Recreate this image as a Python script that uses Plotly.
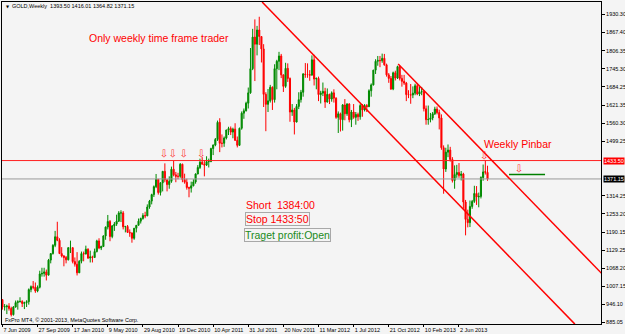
import plotly.graph_objects as go

# ---------------- data (weekly GOLD candles, week 0 = 7 Jun 2009) ----------------
opens = [962, 937, 938, 940, 932, 911, 937, 952, 955, 956, 949, 952, 955, 996, 1006, 1004, 991, 1004, 1049, 1051,
         1056, 1045, 1096, 1118, 1146, 1175, 1163, 1118, 1110, 1105, 1097, 1138, 1138, 1091, 1082, 1053, 1092, 1118, 1117, 1133,
         1103, 1107, 1105, 1125, 1161, 1137, 1142, 1178, 1208, 1227, 1176, 1212, 1218, 1228, 1256, 1256, 1209, 1210, 1190, 1188,
         1170, 1204, 1214, 1228, 1237, 1247, 1246, 1276, 1296, 1318, 1345, 1370, 1325, 1358, 1397, 1368, 1352, 1363, 1404, 1385,
         1380, 1380, 1421, 1369, 1360, 1342, 1340, 1348, 1361, 1388, 1410, 1428, 1421, 1418, 1430, 1430, 1474, 1486, 1505, 1563,
         1492, 1492, 1510, 1537, 1542, 1530, 1540, 1502, 1485, 1543, 1594, 1602, 1628, 1663, 1745, 1852, 1828, 1876, 1854, 1812,
         1658, 1624, 1636, 1682, 1640, 1745, 1770, 1788, 1724, 1685, 1746, 1712, 1598, 1605, 1564, 1617, 1640, 1665, 1727, 1725,
         1725, 1723, 1775, 1710, 1712, 1657, 1662, 1668, 1632, 1658, 1642, 1663, 1645, 1580, 1592, 1572, 1622, 1592, 1625, 1572,
         1598, 1580, 1590, 1582, 1620, 1605, 1620, 1616, 1670, 1690, 1740, 1770, 1773, 1772, 1780, 1758, 1724, 1712, 1676, 1731,
         1713, 1752, 1712, 1702, 1696, 1657, 1656, 1656, 1662, 1687, 1659, 1667, 1667, 1609, 1572, 1573, 1578, 1592, 1608, 1596,
         1578, 1477, 1405, 1462, 1469, 1437, 1366, 1386, 1393, 1383, 1388, 1293, 1234, 1223, 1278, 1295, 1322, 1310, 1312, 1376,
         1396, 1393.50]
highs = [964, 947, 945, 950, 938, 940, 959, 960, 970, 960, 955, 960, 1000, 1010, 1025, 1020, 1010, 1060, 1070, 1070,
         1064, 1100, 1120, 1150, 1195, 1226, 1170, 1140, 1113, 1110, 1140, 1162, 1140, 1105, 1123, 1096, 1125, 1125, 1145, 1136,
         1128, 1111, 1135, 1165, 1170, 1145, 1180, 1210, 1249, 1232, 1215, 1225, 1250, 1262, 1265, 1262, 1212, 1215, 1200, 1190,
         1205, 1215, 1237, 1240, 1255, 1260, 1285, 1300, 1321, 1349, 1388, 1371, 1360, 1398, 1424, 1370, 1380, 1413, 1432, 1395,
         1392, 1425, 1423, 1389, 1372, 1345, 1362, 1370, 1390, 1418, 1440, 1445, 1435, 1448, 1440, 1477, 1488, 1510, 1569, 1577,
         1522, 1515, 1538, 1548, 1549, 1545, 1560, 1515, 1545, 1600, 1610, 1633, 1681, 1815, 1880, 1912, 1890, 1921, 1855, 1828,
         1665, 1676, 1690, 1685, 1760, 1775, 1802, 1795, 1725, 1765, 1763, 1715, 1625, 1612, 1625, 1665, 1673, 1730, 1764, 1763,
         1740, 1790, 1792, 1715, 1718, 1670, 1698, 1680, 1678, 1660, 1668, 1675, 1648, 1600, 1596, 1625, 1642, 1628, 1628, 1605,
         1625, 1598, 1596, 1625, 1625, 1625, 1625, 1675, 1695, 1741, 1777, 1788, 1788, 1796, 1795, 1762, 1730, 1720, 1735, 1738,
         1755, 1755, 1724, 1724, 1700, 1672, 1693, 1685, 1694, 1695, 1685, 1683, 1670, 1620, 1620, 1595, 1598, 1616, 1617, 1606,
         1590, 1485, 1477, 1488, 1480, 1445, 1417, 1419, 1425, 1398, 1392, 1300, 1267, 1298, 1300, 1348, 1347, 1325, 1380, 1420,
         1434, 1416.01]
lows = [928, 925, 913, 925, 905, 908, 935, 928, 952, 937, 930, 937, 945, 987, 997, 985, 987, 1000, 1040, 1040,
        1027, 1045, 1085, 1115, 1140, 1160, 1120, 1105, 1075, 1085, 1095, 1120, 1085, 1074, 1044, 1052, 1085, 1092, 1115, 1100,
        1088, 1088, 1103, 1122, 1133, 1130, 1141, 1165, 1200, 1160, 1170, 1195, 1212, 1225, 1225, 1200, 1190, 1190, 1175, 1155,
        1165, 1190, 1214, 1220, 1233, 1238, 1245, 1270, 1285, 1310, 1340, 1318, 1315, 1329, 1360, 1329, 1338, 1358, 1380, 1360,
        1370, 1375, 1360, 1355, 1335, 1309, 1325, 1346, 1355, 1387, 1405, 1420, 1380, 1415, 1410, 1428, 1452, 1482, 1500, 1462,
        1478, 1480, 1505, 1520, 1520, 1509, 1500, 1478, 1483, 1538, 1575, 1600, 1610, 1660, 1740, 1703, 1790, 1825, 1766, 1615,
        1533, 1598, 1630, 1605, 1630, 1675, 1740, 1713, 1666, 1680, 1700, 1565, 1585, 1522, 1563, 1608, 1630, 1650, 1714, 1714,
        1704, 1722, 1688, 1675, 1635, 1627, 1652, 1612, 1630, 1625, 1633, 1630, 1575, 1527, 1532, 1535, 1570, 1585, 1563, 1547,
        1575, 1555, 1568, 1572, 1582, 1600, 1598, 1615, 1650, 1688, 1727, 1755, 1750, 1765, 1755, 1718, 1697, 1673, 1672, 1705,
        1710, 1705, 1684, 1690, 1635, 1645, 1626, 1645, 1655, 1655, 1652, 1655, 1600, 1555, 1555, 1563, 1570, 1588, 1590, 1539,
        1470, 1321, 1395, 1445, 1430, 1359, 1338, 1375, 1375, 1366, 1270, 1180, 1207, 1208, 1270, 1290, 1283, 1275, 1305, 1365,
        1386, 1364.82]
closes = [937, 938, 940, 932, 911, 937, 952, 955, 956, 949, 952, 955, 996, 1006, 1004, 991, 1004, 1049, 1051, 1056,
          1045, 1096, 1118, 1146, 1175, 1163, 1118, 1110, 1105, 1097, 1138, 1138, 1091, 1082, 1053, 1092, 1118, 1117, 1133, 1103,
          1107, 1105, 1125, 1161, 1137, 1142, 1178, 1208, 1227, 1176, 1212, 1218, 1228, 1256, 1256, 1209, 1210, 1190, 1188, 1170,
          1204, 1214, 1228, 1237, 1247, 1246, 1276, 1296, 1318, 1345, 1370, 1325, 1358, 1397, 1368, 1352, 1363, 1404, 1385, 1380,
          1380, 1421, 1369, 1360, 1342, 1340, 1348, 1361, 1388, 1410, 1428, 1421, 1418, 1430, 1430, 1474, 1486, 1505, 1563, 1492,
          1492, 1510, 1537, 1542, 1530, 1540, 1502, 1485, 1543, 1594, 1602, 1628, 1663, 1745, 1852, 1828, 1876, 1854, 1812, 1658,
          1624, 1636, 1682, 1640, 1745, 1770, 1788, 1724, 1685, 1746, 1712, 1598, 1605, 1564, 1617, 1640, 1665, 1727, 1725, 1725,
          1723, 1775, 1710, 1712, 1657, 1662, 1668, 1632, 1658, 1642, 1663, 1645, 1580, 1592, 1572, 1622, 1592, 1625, 1572, 1598,
          1580, 1590, 1582, 1620, 1605, 1620, 1616, 1670, 1690, 1740, 1770, 1773, 1772, 1780, 1758, 1724, 1712, 1676, 1731, 1713,
          1752, 1712, 1702, 1696, 1657, 1656, 1656, 1662, 1687, 1659, 1667, 1667, 1609, 1572, 1573, 1578, 1592, 1608, 1596, 1578,
          1477, 1405, 1462, 1469, 1437, 1366, 1386, 1393, 1383, 1388, 1293, 1234, 1223, 1278, 1295, 1322, 1310, 1312, 1376, 1395,
          1394, 1371.15]
weeks = list(range(len(closes)))

date_tick_weeks = [0, 16, 32, 48, 64, 80, 96, 112, 128, 144, 160, 176, 192, 208]
date_tick_labels = ["7 Jun 2009", "27 Sep 2009", "17 Jan 2010", "9 May 2010", "29 Aug 2010", "19 Dec 2010",
                    "10 Apr 2011", "31 Jul 2011", "20 Nov 2011", "11 Mar 2012", "1 Jul 2012", "21 Oct 2012",
                    "10 Feb 2013", "2 Jun 2013"]
price_ticks = [1930.30, 1867.40, 1806.35, 1745.30, 1684.25, 1621.35, 1560.30, 1499.25,
               1314.25, 1253.20, 1190.15, 1129.25, 1068.20, 1007.15, 946.10, 885.05]

stop_level = 1433.50
bid_level = 1371.15
entry_level = 1386
entry_span = [230.8, 247.2]

long_line_x = [118.3, 260.8]
long_line_y = [1971, 879]
upper_line_x = [180.3, 273.5]
upper_line_y = [1761, 1047]

arrow_x = [73.6, 77.6, 82.6, 90.6, 219.5, 235.3]
arrow_y = [1455, 1455, 1455, 1455, 1448, 1402]

X_RANGE = [-0.2, 272.7]
Y_RANGE = [879.4, 1971.0]

BG = "#f4f4f4"
SMALL = dict(family="Liberation Sans, Arial, sans-serif", size=5.5, color="#000000")
BIG = "Liberation Sans, Arial, sans-serif"

fig = go.Figure()

fig.add_trace(go.Candlestick(
    x=weeks, open=opens, high=highs, low=lows, close=closes,
    increasing=dict(line=dict(color="#008a00", width=1), fillcolor="#008a00"),
    decreasing=dict(line=dict(color="#ff0000", width=1), fillcolor="#ff0000"),
    whiskerwidth=0, hoverinfo="skip", showlegend=False))

# horizontal lines
fig.add_trace(go.Scatter(x=[X_RANGE[0] - 5, X_RANGE[1] + 5], y=[stop_level, stop_level], mode="lines",
                         line=dict(color="#ff2020", width=1), hoverinfo="skip", showlegend=False))
fig.add_trace(go.Scatter(x=[X_RANGE[0] - 5, X_RANGE[1] + 5], y=[bid_level, bid_level], mode="lines",
                         line=dict(color="#9a9a9a", width=1), hoverinfo="skip", showlegend=False))
fig.add_trace(go.Scatter(x=entry_span, y=[entry_level, entry_level], mode="lines",
                         line=dict(color="#008000", width=1.6), hoverinfo="skip", showlegend=False))

# trend channel lines
fig.add_trace(go.Scatter(x=long_line_x, y=long_line_y, mode="lines",
                         line=dict(color="#ff0000", width=1.5), hoverinfo="skip", showlegend=False))
fig.add_trace(go.Scatter(x=upper_line_x, y=upper_line_y, mode="lines",
                         line=dict(color="#ff0000", width=1.5), hoverinfo="skip", showlegend=False))

# arrows
fig.add_trace(go.Scatter(x=arrow_x, y=arrow_y, mode="text", text=["⇩"] * len(arrow_x),
                         textposition="middle center",
                         textfont=dict(family="DejaVu Sans", size=10, color="#ff3030"),
                         hoverinfo="skip", showlegend=False))

W, H = 625, 334
ML, MR, MT, MB = 2, 24, 2, 10
PW, PH = W - ML - MR, H - MT - MB


def px(xp):
    return (xp - ML) / PW


def py(yp):
    return (H - MB - yp) / PH


ann = []
ann.append(dict(text="▼", x=px(4), y=py(6), xref="paper", yref="paper", xanchor="left", yanchor="middle",
                showarrow=False, font=dict(family="DejaVu Sans", size=4, color="#000")))
ann.append(dict(text="GOLD,Weekly  1393.50 1416.01 1364.82 1371.15", x=px(10), y=py(6), xref="paper",
                yref="paper", xanchor="left", yanchor="middle", showarrow=False, font=SMALL))
ann.append(dict(text="FxPro MT4, © 2001-2013, MetaQuotes Software Corp.", x=px(3), y=py(320), xref="paper",
                yref="paper", xanchor="left", yanchor="middle", showarrow=False, font=SMALL))
ann.append(dict(text="Only weekly time frame trader", x=px(87), y=py(38), xref="paper", yref="paper",
                xanchor="left", yanchor="middle", showarrow=False, font=dict(family=BIG, size=10.5, color="#ff0000")))
ann.append(dict(text="Short  1384:00", x=px(244), y=py(205), xref="paper", yref="paper",
                xanchor="left", yanchor="middle", showarrow=False, font=dict(family=BIG, size=10.5, color="#ff0000")))
ann.append(dict(text="Stop 1433:50", x=px(245), y=py(218.5), xref="paper", yref="paper",
                xanchor="left", yanchor="middle", showarrow=False, bordercolor="#a8a8a8", borderwidth=1, borderpad=0,
                font=dict(family=BIG, size=10.5, color="#ff0000")))
ann.append(dict(text="Traget profit:Open", x=px(244), y=py(234.5), xref="paper", yref="paper",
                xanchor="left", yanchor="middle", showarrow=False, bordercolor="#a8a8a8", borderwidth=1, borderpad=0,
                font=dict(family=BIG, size=10.5, color="#1a8a1a")))
ann.append(dict(text="Weekly Pinbar", x=px(482), y=py(144), xref="paper", yref="paper",
                xanchor="left", yanchor="middle", showarrow=False, font=dict(family=BIG, size=10.5, color="#ff0000")))
# price-scale labels for the lines
ann.append(dict(text="%.2f" % stop_level, x=1.0, y=stop_level, xref="paper", yref="y", xanchor="left",
                yanchor="middle", xshift=2, showarrow=False, bgcolor="#ff0000", borderpad=0,
                font=dict(family="Liberation Sans, Arial", size=5.5, color="#ffffff")))
ann.append(dict(text="%.2f" % bid_level, x=1.0, y=bid_level, xref="paper", yref="y", xanchor="left",
                yanchor="middle", xshift=2, showarrow=False, bgcolor="#000000", borderpad=0,
                font=dict(family="Liberation Sans, Arial", size=5.5, color="#ffffff")))

fig.update_layout(
    width=W, height=H, margin=dict(l=ML, r=MR, t=MT, b=MB, pad=0, autoexpand=False),
    paper_bgcolor=BG, plot_bgcolor=BG, showlegend=False, annotations=ann,
    xaxis=dict(range=X_RANGE, rangeslider=dict(visible=False), showgrid=False, zeroline=False,
               showline=True, mirror=True, linecolor="#000000", linewidth=1, automargin=False,
               tickmode="array", tickvals=date_tick_weeks, ticktext=date_tick_labels, tickangle=0,
               ticks="outside", ticklen=2, tickcolor="#000", ticklabelposition="outside right",
               ticklabelstandoff=0, tickfont=dict(family="Liberation Sans, Arial", size=5.5, color="#000")),
    yaxis=dict(range=Y_RANGE, side="right", showgrid=False, zeroline=False, automargin=False,
               showline=True, mirror=True, linecolor="#000000", linewidth=1,
               tickmode="array", tickvals=price_ticks, ticktext=["%.2f" % v for v in price_ticks],
               ticks="outside", ticklen=3, tickcolor="#000", tickfont=SMALL),
)

fig.write_html("out.html")
